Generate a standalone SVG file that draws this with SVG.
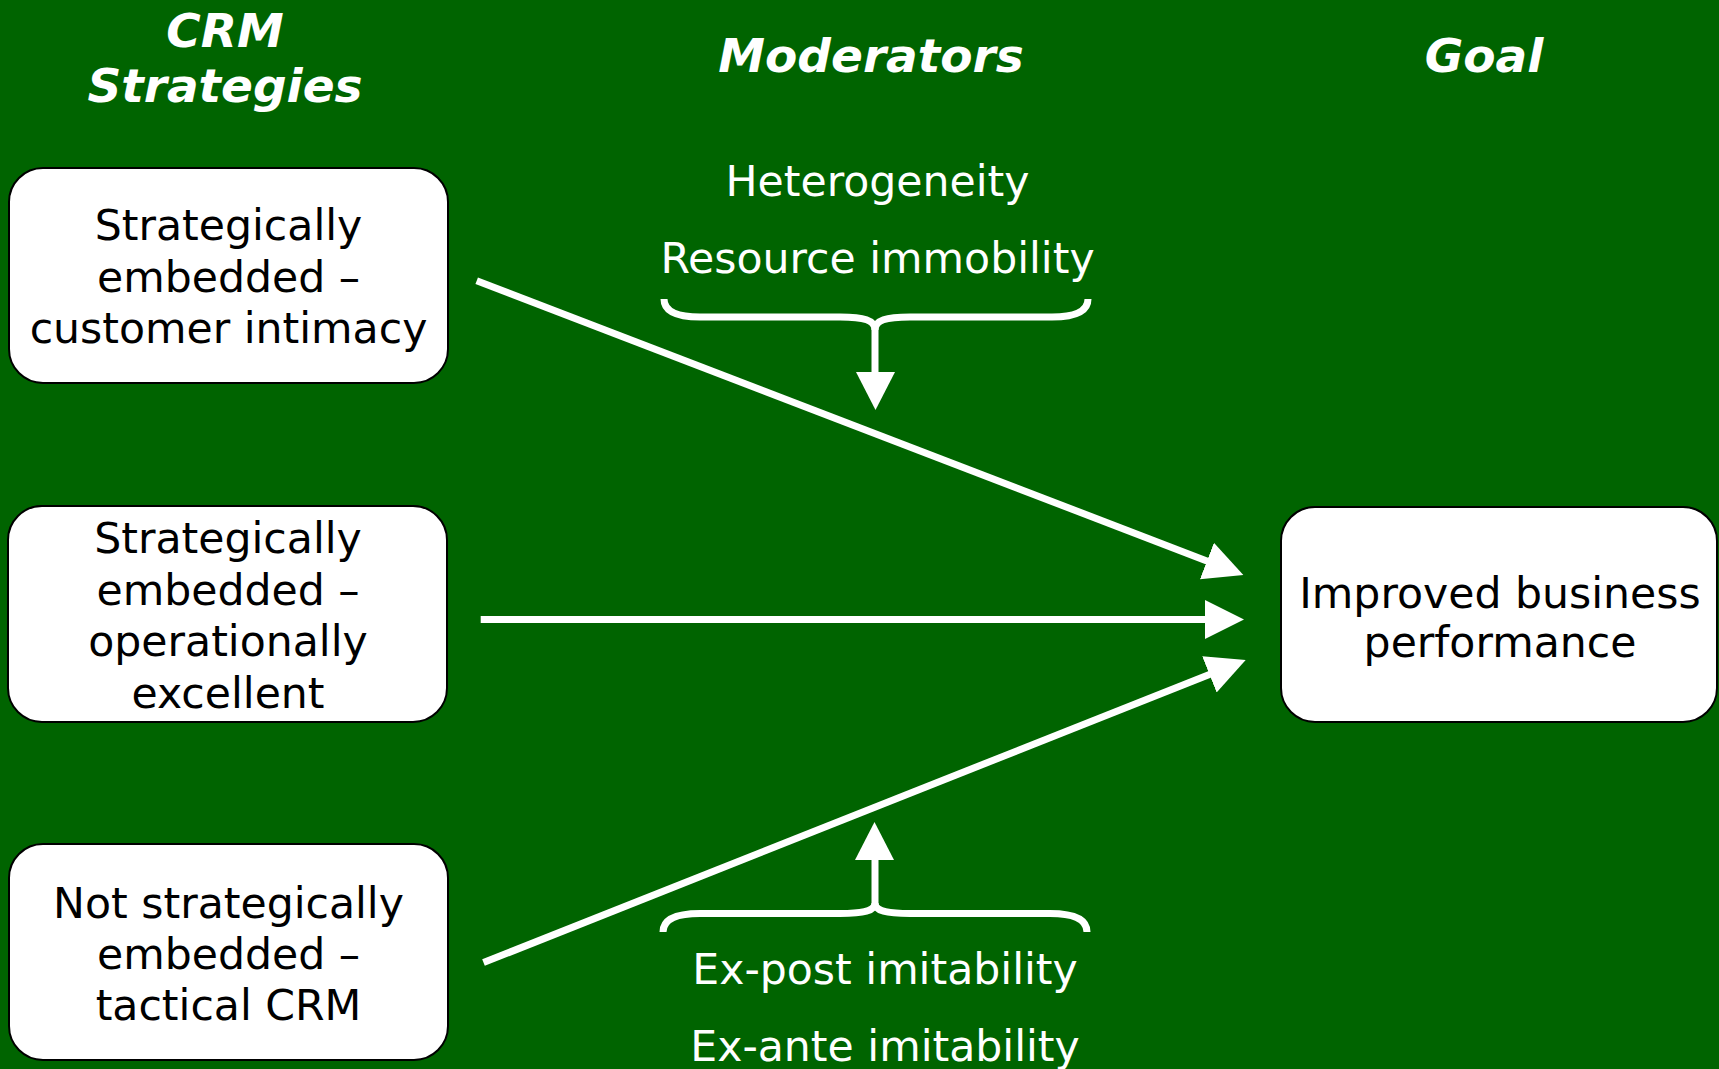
<svg xmlns="http://www.w3.org/2000/svg" width="1719" height="1069" viewBox="0 0 1719 1069">
<style>
.bg{fill:#006400}
.box{fill:#ffffff;stroke:#000000;stroke-width:2}
.bt{font-family:"DejaVu Sans","Verdana",sans-serif;font-size:42.6px;fill:#000000;text-anchor:middle}
.mt{font-family:"DejaVu Sans","Verdana",sans-serif;font-size:42.6px;fill:#ffffff;text-anchor:middle}
.hd{font-family:"DejaVu Sans","Verdana",sans-serif;font-size:47px;font-weight:bold;font-style:italic;fill:#ffffff;text-anchor:middle}
.ln{stroke:#ffffff;stroke-width:7;fill:none}
.br{stroke:#ffffff;stroke-width:7;fill:none;stroke-linecap:butt}
.ah{fill:#ffffff}
</style>
<defs>
<marker id="arr" markerUnits="userSpaceOnUse" markerWidth="42" markerHeight="42" refX="2" refY="19.5" orient="auto" viewBox="0 0 42 42">
<path d="M0,0 L39,19.5 L0,39 z" fill="#ffffff"/>
</marker>
</defs>
<rect class="bg" x="0" y="0" width="1719" height="1069"/>

<g id="headers">
<text class="hd" x="225" y="47">CRM</text>
<text class="hd" x="225" y="102">Strategies</text>
<text class="hd" x="871" y="72">Moderators</text>
<text class="hd" x="1484" y="72">Goal</text>
</g>

<g id="node-customer-intimacy">
<rect class="box" x="9" y="168" width="439" height="215" rx="34" ry="34"/>
<text class="bt" x="228.5" y="240">Strategically</text>
<text class="bt" x="228.5" y="291.5">embedded –</text>
<text class="bt" x="228.5" y="343">customer intimacy</text>
</g>

<g id="node-operationally-excellent">
<rect class="box" x="8" y="506" width="439" height="216" rx="34" ry="34"/>
<text class="bt" x="228" y="553">Strategically</text>
<text class="bt" x="228" y="604.5">embedded –</text>
<text class="bt" x="228" y="656">operationally</text>
<text class="bt" x="228" y="707.5">excellent</text>
</g>

<g id="node-tactical-crm">
<rect class="box" x="9" y="844" width="439" height="216" rx="34" ry="34"/>
<text class="bt" x="228.5" y="918">Not strategically</text>
<text class="bt" x="228.5" y="969">embedded –</text>
<text class="bt" x="228.5" y="1020">tactical CRM</text>
</g>

<g id="node-goal">
<rect class="box" x="1281" y="507" width="436" height="215" rx="34" ry="34"/>
<text class="bt" x="1500" y="608">Improved business</text>
<text class="bt" x="1500" y="657">performance</text>
</g>

<g id="moderators-top">
<text class="mt" x="877.5" y="196">Heterogeneity</text>
<text class="mt" x="877.5" y="273">Resource immobility</text>
<path class="br" d="M664,299 C664,311 676,317 700,317 L840,317 C864,317 875,320 875,330 C875,320 886,317 910,317 L1052,317 C1076,317 1088,311 1088,299"/>
<path class="br" d="M875,328 L875,374"/>
<path class="ah" d="M856,372 L895,372 L875.5,410 z"/>
</g>

<g id="moderators-bottom">
<path class="br" d="M663,932 C663,920 675,913.5 700,913.5 L840,913.5 C864,913.5 875,911 875,903 C875,911 886,913.5 910,913.5 L1050,913.5 C1075,913.5 1087,920 1087,932"/>
<path class="br" d="M875,905 L875,858"/>
<path class="ah" d="M855,860 L894,860 L874.5,822 z"/>
<text class="mt" x="885" y="984">Ex-post imitability</text>
<text class="mt" x="885" y="1061">Ex-ante imitability</text>
</g>

<g id="connectors">
<line class="ln" x1="476.7" y1="280.7" x2="1208.8" y2="561.7" marker-end="url(#arr)"/>
<line class="ln" x1="480.7" y1="619.5" x2="1207" y2="619.5" marker-end="url(#arr)"/>
<line class="ln" x1="483.5" y1="962.6" x2="1211.3" y2="673.7" marker-end="url(#arr)"/>
</g>
</svg>
